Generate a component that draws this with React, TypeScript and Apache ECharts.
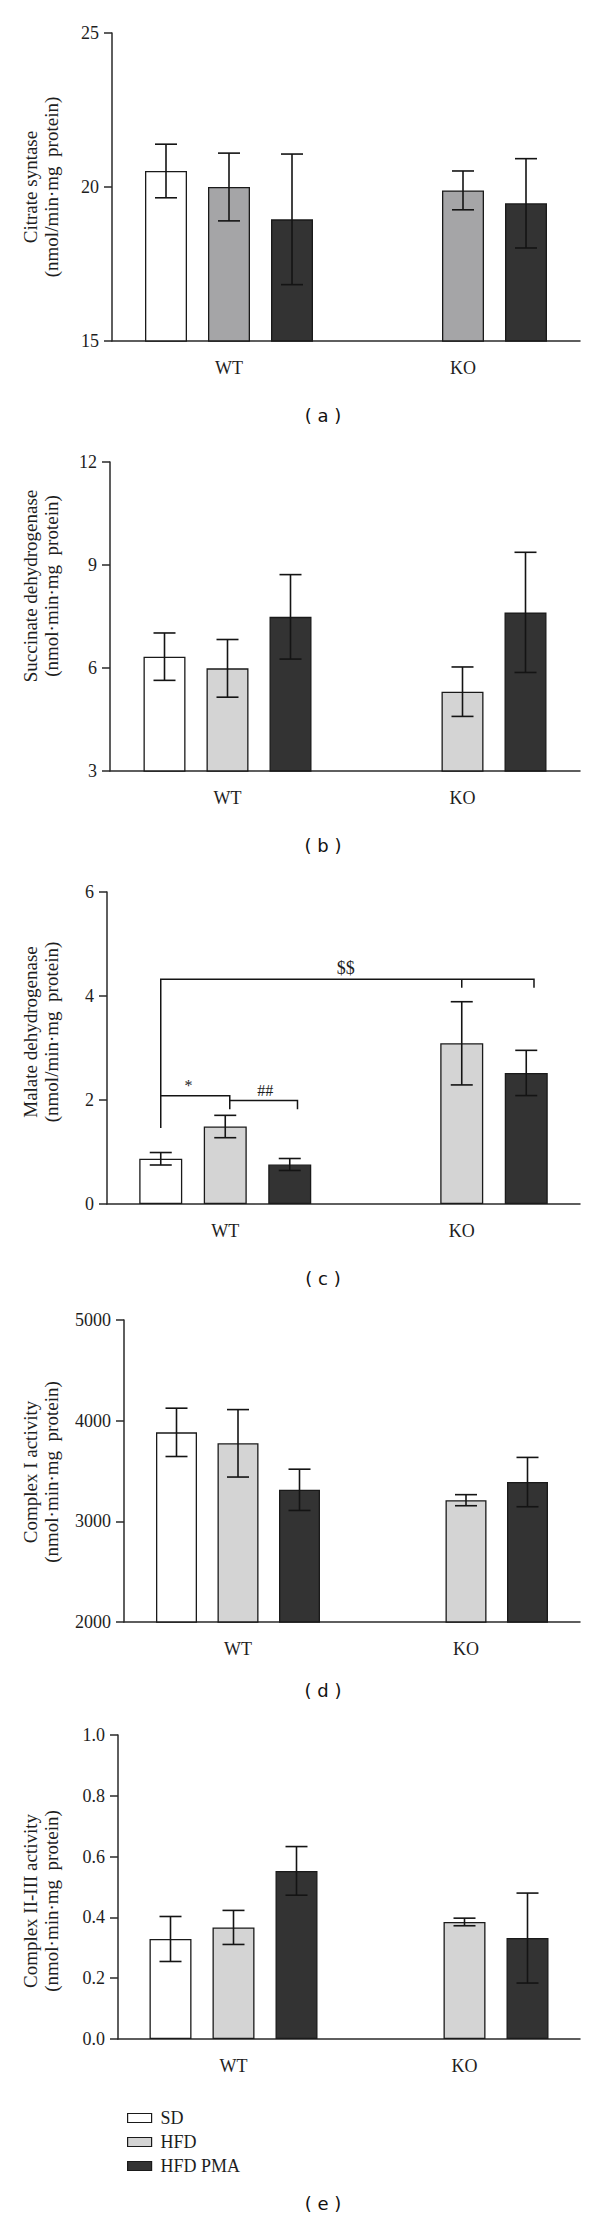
import React, { useEffect, useRef } from 'react';
import * as echarts from 'echarts';

// ---------- data ----------
const groups = ['WT', 'KO'];
const seriesNames = ['SD', 'HFD', 'HFD PMA'];

// (a) Citrate syntase
const csSD = [20.52, null];
const csSDErr = [0.87, null];
const csHFD = [20.0, 19.89];
const csHFDErr = [1.1, 0.63];
const csPMA = [18.95, 19.47];
const csPMAErr = [2.12, 1.45];

// (b) Succinate dehydrogenase
const sdhSD = [6.33, null];
const sdhSDErr = [0.69, null];
const sdhHFD = [5.99, 5.31];
const sdhHFDErr = [0.84, 0.72];
const sdhPMA = [7.49, 7.62];
const sdhPMAErr = [1.23, 1.75];

// (c) Malate dehydrogenase
const mdhSD = [0.87, null];
const mdhSDErr = [0.12, null];
const mdhHFD = [1.49, 3.09];
const mdhHFDErr = [0.215, 0.8];
const mdhPMA = [0.76, 2.52];
const mdhPMAErr = [0.115, 0.435];

// (d) Complex I activity
const c1SD = [3884, null];
const c1SDErr = [240, null];
const c1HFD = [3775, 3210];
const c1HFDErr = [335, 55];
const c1PMA = [3313, 3390];
const c1PMAErr = [205, 245];

// (e) Complex II-III activity
const c23SD = [0.329, null];
const c23SDErr = [0.074, null];
const c23HFD = [0.367, 0.385];
const c23HFDErr = [0.056, 0.0125];
const c23PMA = [0.553, 0.332];
const c23PMAErr = [0.08, 0.148];

// y-axis ranges [min, max, interval]
const axisA = [15, 25, 5];
const axisB = [3, 12, 3];
const axisC = [0, 6, 2];
const axisD = [2000, 5000, 1000];
const axisE = [0, 1, 0.2];

// significance annotations for (c): points are [group, slot, value]
const mdhBracketLines = [
  [[0, -1, 1.46], [0, -1, 4.32], [1, 1.12, 4.32], [1, 1.12, 4.16]],
  [[1, 0, 4.32], [1, 0, 4.16]],
  [[0, -1, 2.08], [0, 0.07, 2.08], [0, 0.07, 1.82]],
  [[0, 0.07, 1.99], [0, 1.12, 1.99], [0, 1.12, 1.82]],
];
const mdhBracketLabels = ['$$', '*', '##'];
const mdhBracketLabelAt = [[0, 1.87, 4.32], [0, -0.57, 2.08], [0, 0.62, 1.99]];

// ---------- layout ----------
const SERIF = '"Liberation Serif", "Times New Roman", serif';
const SANS = '"DejaVu Sans", Verdana, sans-serif';
const TEXT = '#1e1e1e';
const LINE = '#2a2a2a';

const panels = [
  {
    name1: 'Citrate syntase', name2: '(nmol/min·mg  protein)', tag: '( a )',
    axis: axisA, vals: [csSD, csHFD, csPMA], errs: [csSDErr, csHFDErr, csPMAErr],
    colors: ['#ffffff', '#a5a5a7', '#333333'],
    grid: { left: 112, top: 33, width: 468, height: 308 }, barW: 42,
    nameY: 187, tagY: 415, dec: 0,
  },
  {
    name1: 'Succinate dehydrogenase', name2: '(nmol·min·mg  protein)', tag: '( b )',
    axis: axisB, vals: [sdhSD, sdhHFD, sdhPMA], errs: [sdhSDErr, sdhHFDErr, sdhPMAErr],
    colors: ['#ffffff', '#d4d4d4', '#333333'],
    grid: { left: 110, top: 462, width: 470, height: 309 }, barW: 42,
    nameY: 586, tagY: 845, dec: 0,
  },
  {
    name1: 'Malate dehydrogenase', name2: '(nmol/min·mg  protein)', tag: '( c )',
    axis: axisC, vals: [mdhSD, mdhHFD, mdhPMA], errs: [mdhSDErr, mdhHFDErr, mdhPMAErr],
    colors: ['#ffffff', '#d4d4d4', '#333333'],
    grid: { left: 107, top: 892, width: 473, height: 312 }, barW: 43,
    nameY: 1032, tagY: 1278, dec: 0,
  },
  {
    name1: 'Complex I activity', name2: '(nmol·min·mg  protein)', tag: '( d )',
    axis: axisD, vals: [c1SD, c1HFD, c1PMA], errs: [c1SDErr, c1HFDErr, c1PMAErr],
    colors: ['#ffffff', '#d4d4d4', '#333333'],
    grid: { left: 124, top: 1320, width: 456, height: 302 }, barW: 41,
    nameY: 1472, tagY: 1690, dec: 0,
  },
  {
    name1: 'Complex II-III activity', name2: '(nmol·min·mg  protein)', tag: '( e )',
    axis: axisE, vals: [c23SD, c23HFD, c23PMA], errs: [c23SDErr, c23HFDErr, c23PMAErr],
    colors: ['#ffffff', '#d4d4d4', '#333333'],
    grid: { left: 118, top: 1735, width: 462, height: 304 }, barW: 42,
    nameY: 1901, tagY: 2203, dec: 1,
  },
];

function buildOption() {
  const grid: any[] = [];
  const xAxis: any[] = [];
  const yAxis: any[] = [];
  const series: any[] = [];
  const graphic: any[] = [];

  panels.forEach((p, pi) => {
    grid.push({ ...p.grid, containLabel: false });
    xAxis.push({
      type: 'category', gridIndex: pi, data: groups,
      axisLine: { lineStyle: { color: LINE, width: 1.5 } },
      axisTick: { alignWithLabel: true, length: 9, lineStyle: { color: LINE, width: 1.5 } },
      axisLabel: { margin: 18, fontSize: 18, fontFamily: SERIF, color: TEXT },
    });
    yAxis.push({
      type: 'value', gridIndex: pi, min: p.axis[0], max: p.axis[1], interval: p.axis[2],
      axisLine: { show: true, lineStyle: { color: LINE, width: 1.5 } },
      axisTick: { show: true, length: 8, lineStyle: { color: LINE, width: 1.5 } },
      splitLine: { show: false },
      axisLabel: {
        margin: 13, fontSize: 18, fontFamily: SERIF, color: TEXT,
        formatter: (v: number) => v.toFixed(p.dec),
      },
    });
    const slotPx = p.barW * 1.5;
    p.vals.forEach((vals, si) => {
      series.push({
        type: 'bar', name: seriesNames[si], xAxisIndex: pi, yAxisIndex: pi,
        data: vals.map((v) => (v == null ? '-' : v)),
        barWidth: p.barW, barGap: '50%',
        itemStyle: { color: p.colors[si], borderColor: '#1a1a1a', borderWidth: 1.3 },
        silent: true,
      });
    });
    const errData: any[] = [];
    p.vals.forEach((vals, si) => {
      vals.forEach((v, gi) => {
        const e = p.errs[si][gi];
        if (v != null && e != null) errData.push([gi, si - 1, v, e]);
      });
    });
    series.push({
      type: 'custom', xAxisIndex: pi, yAxisIndex: pi, z: 5, silent: true,
      encode: { x: 0, y: 2 },
      data: errData,
      renderItem: (params: any, api: any) => {
        const g = api.value(0), slot = api.value(1), m = api.value(2), e = api.value(3);
        const c = api.coord([g, m]);
        const x = c[0] + slot * slotPx;
        const yT = api.coord([g, m + e])[1];
        const yB = api.coord([g, m - e])[1];
        const st = { stroke: '#141414', lineWidth: 1.6 };
        const cap = 11;
        return {
          type: 'group', children: [
            { type: 'line', shape: { x1: x, y1: yT, x2: x, y2: yB }, style: st },
            { type: 'line', shape: { x1: x - cap, y1: yT, x2: x + cap, y2: yT }, style: st },
            { type: 'line', shape: { x1: x - cap, y1: yB, x2: x + cap, y2: yB }, style: st },
          ],
        };
      },
    });
    if (pi === 2) {
      const items: any[] = [];
      mdhBracketLines.forEach((pts, i) => items.push([0, pts[0][2], 0, i]));
      mdhBracketLabelAt.forEach((pt, i) => items.push([0, pt[2], 1, i]));
      series.push({
        type: 'custom', xAxisIndex: pi, yAxisIndex: pi, z: 6, silent: true,
        encode: { x: 0, y: 1 },
        data: items,
        renderItem: (params: any, api: any) => {
          const kind = api.value(2), idx = api.value(3);
          const toPx = (pt: number[]) => {
            const c = api.coord([pt[0], pt[2]]);
            return [c[0] + pt[1] * slotPx, c[1]];
          };
          if (kind === 0) {
            return {
              type: 'polyline',
              shape: { points: mdhBracketLines[idx].map(toPx) },
              style: { stroke: '#141414', lineWidth: 1.5, fill: null },
            };
          }
          const at = toPx(mdhBracketLabelAt[idx]);
          return {
            type: 'text',
            style: {
              text: mdhBracketLabels[idx], x: at[0], y: at[1] - 2,
              align: 'center', verticalAlign: 'bottom',
              font: `${idx === 0 ? 18 : 16}px ${SERIF}`, fill: TEXT,
            },
          };
        },
      });
    }
    // y-axis title (two lines, rotated)
    graphic.push({
      type: 'text', x: 41, y: p.nameY, rotation: Math.PI / 2, silent: true,
      style: {
        text: p.name1 + '\n' + p.name2, align: 'center', verticalAlign: 'middle',
        font: `19px ${SERIF}`, lineHeight: 21, fill: TEXT,
      },
    });
    graphic.push({
      type: 'text', x: 323, y: p.tagY, silent: true,
      style: { text: p.tag, align: 'center', verticalAlign: 'middle', font: `18px ${SANS}`, fill: '#111' },
    });
  });

  return {
    animation: false,
    backgroundColor: '#ffffff',
    grid, xAxis, yAxis, series, graphic,
    legend: {
      orient: 'vertical', left: 122, top: 2104, itemWidth: 24, itemHeight: 9, itemGap: 6,
      icon: 'rect', selectedMode: false,
      itemStyle: { borderColor: '#1a1a1a', borderWidth: 1.2 },
      textStyle: { fontSize: 18, fontFamily: SERIF, color: TEXT, padding: [0, 0, 0, 4] },
      data: [
        { name: 'SD', itemStyle: { color: '#ffffff' } },
        { name: 'HFD', itemStyle: { color: '#d4d4d4' } },
        { name: 'HFD PMA', itemStyle: { color: '#333333' } },
      ],
    },
  };
}

export default function App() {
  const ref = useRef<HTMLDivElement>(null);
  useEffect(() => {
    document.body.style.margin = '0';
    if (!ref.current) return;
    const chart = echarts.init(ref.current, undefined, { renderer: 'svg' });
    chart.setOption(buildOption() as any);
    return () => chart.dispose();
  }, []);
  return <div ref={ref} style={{ width: 600, height: 2218, background: '#fff' }} />;
}
